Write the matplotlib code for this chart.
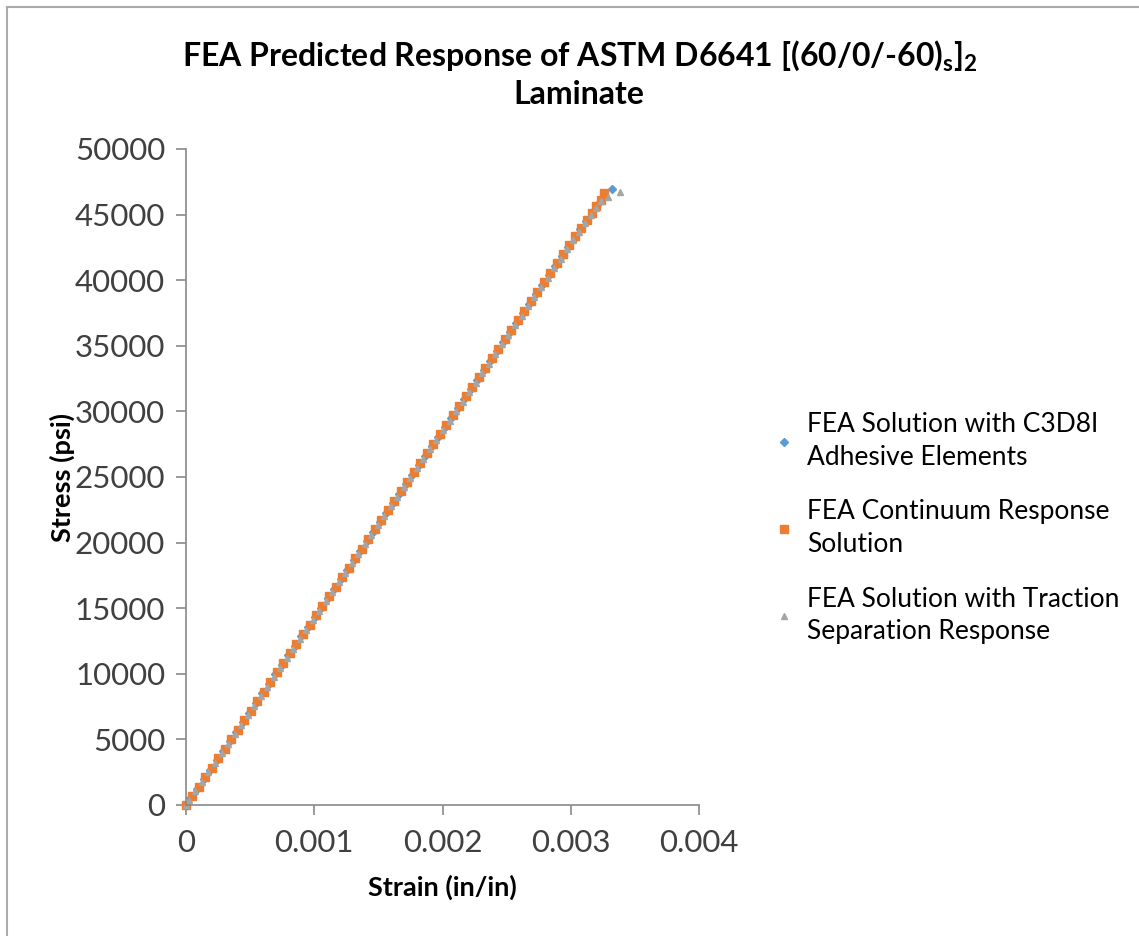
import numpy as np
import matplotlib
matplotlib.use("Agg")
import matplotlib.pyplot as plt
from matplotlib.lines import Line2D

plt.rcParams['font.family'] = ['Lato', 'DejaVu Sans']

# stress (psi) and strain (microstrain)
stress_c3d8i = [0, 500, 1250, 1950, 2700, 3400, 4150, 4850, 5600, 6300,
                7050, 7750, 8500, 9200, 9950, 10650, 11400, 12100, 12850, 13550,
                14300, 15000, 15750, 16450, 17200, 17900, 18650, 19350, 20100, 20800,
                21550, 22250, 23000, 23700, 24450, 25150, 25900, 26600, 27350, 28050,
                28800, 29500, 30250, 30950, 31700, 32400, 33150, 33850, 34600, 35300,
                36050, 36750, 37500, 38200, 38950, 39650, 40400, 41100, 41850, 42550,
                43250, 43900, 44550, 45150, 45700, 46200, 46950]
strain_c3d8i = [0, 35, 88, 137, 189, 238, 291, 340, 392, 441,
                494, 543, 596, 645, 697, 746, 799, 848, 900, 950,
                1002, 1051, 1104, 1153, 1205, 1254, 1307, 1356, 1409, 1458,
                1510, 1559, 1612, 1661, 1713, 1762, 1815, 1864, 1917, 1966,
                2018, 2067, 2120, 2169, 2221, 2270, 2323, 2372, 2425, 2474,
                2526, 2575, 2628, 2677, 2730, 2779, 2831, 2880, 2933, 2982,
                3031, 3076, 3122, 3164, 3203, 3238, 3322]

stress_cont = [0, 700, 1400, 2150, 2850, 3600, 4300, 5050, 5750, 6500,
               7200, 7950, 8650, 9400, 10100, 10850, 11550, 12300, 13000, 13750,
               14450, 15200, 15900, 16650, 17350, 18100, 18800, 19550, 20250, 21000,
               21700, 22450, 23150, 23900, 24600, 25350, 26050, 26800, 27500, 28250,
               28950, 29700, 30400, 31150, 31850, 32600, 33300, 34050, 34750, 35500,
               36200, 36950, 37650, 38400, 39100, 39850, 40550, 41300, 42000, 42700,
               43350, 44000, 44600, 45150, 45650, 46150, 46650]
strain_cont = [0, 49, 98, 151, 200, 252, 301, 354, 403, 455,
               504, 557, 606, 658, 707, 760, 809, 861, 910, 963,
               1012, 1064, 1113, 1166, 1215, 1268, 1317, 1369, 1418, 1471,
               1520, 1572, 1621, 1674, 1723, 1775, 1824, 1877, 1926, 1978,
               2027, 2080, 2129, 2181, 2230, 2283, 2332, 2384, 2433, 2486,
               2535, 2588, 2637, 2689, 2738, 2791, 2840, 2892, 2941, 2990,
               3036, 3081, 3123, 3162, 3197, 3232, 3262]

stress_ts = [0, 350, 1050, 1750, 2500, 3200, 3950, 4650, 5400, 6100,
             6850, 7550, 8300, 9000, 9750, 10450, 11200, 11900, 12650, 13350,
             14100, 14800, 15550, 16250, 17000, 17700, 18450, 19150, 19900, 20600,
             21350, 22050, 22800, 23500, 24250, 24950, 25700, 26400, 27150, 27850,
             28600, 29300, 30050, 30750, 31500, 32200, 32950, 33650, 34400, 35100,
             35850, 36550, 37300, 38000, 38750, 39450, 40200, 40900, 41650, 42350,
             43050, 43700, 44350, 44950, 45500, 46000, 46350, 46720]
strain_ts = [0, 25, 74, 123, 175, 224, 277, 326, 379, 428,
             480, 529, 582, 631, 684, 733, 785, 835, 887, 936,
             989, 1038, 1090, 1140, 1192, 1241, 1294, 1343, 1396, 1445,
             1497, 1546, 1599, 1648, 1701, 1750, 1802, 1851, 1904, 1953,
             2006, 2055, 2107, 2156, 2209, 2258, 2311, 2360, 2412, 2461,
             2514, 2563, 2616, 2665, 2717, 2766, 2819, 2868, 2921, 2970,
             3019, 3065, 3111, 3155, 3196, 3236, 3290, 3384]

labels = ['FEA Solution with C3D8I\nAdhesive Elements',
          'FEA Continuum Response\nSolution',
          'FEA Solution with Traction\nSeparation Response']

fig = plt.figure(figsize=(11.39, 9.36), dpi=100)
ax = fig.add_axes([186/1139, 1 - 805/936, 513/1139, 656/936])

ax.plot(np.array(strain_c3d8i) * 1e-6, stress_c3d8i, ls='none', marker='D',
        ms=4, color='#5B9BD5', label=labels[0], clip_on=False)
ax.plot(np.array(strain_cont) * 1e-6, stress_cont, ls='none', marker='s',
        ms=5.5, color='#ED7D31', label=labels[1], clip_on=False)
ax.plot(np.array(strain_ts) * 1e-6, stress_ts, ls='none', marker='^',
        ms=5, color='#A5A5A5', label=labels[2], clip_on=False)

ax.set_xlim(0, 0.004)
ax.set_ylim(0, 50000)
ax.set_xticks([0, 0.001, 0.002, 0.003, 0.004])
ax.set_xticklabels(['0', '0.001', '0.002', '0.003', '0.004'])
ax.set_yticks(range(0, 50001, 5000))

for s in ['top', 'right']:
    ax.spines[s].set_visible(False)
for s in ['left', 'bottom']:
    ax.spines[s].set_color('#898989')
    ax.spines[s].set_linewidth(1.2)
ax.tick_params(axis='both', colors='#898989', labelcolor='#404040',
               labelsize=22.5, length=7, width=1.2, direction='out')
ax.tick_params(axis='x', pad=10)
ax.tick_params(axis='y', pad=8)

ax.set_xlabel('Strain (in/in)', fontsize=19.5, fontweight='bold', labelpad=13)
ax.set_ylabel('Stress (psi)', fontsize=19.5, fontweight='bold', labelpad=0)

fig.text(0.509, 0.941,
         r'FEA Predicted Response of ASTM D6641 [(60/0/-60)$_\mathregular{s}$]$_\mathregular{2}$',
         ha='center', va='center', fontsize=23, fontweight='bold')
fig.text(0.508, 0.899, 'Laminate', ha='center', va='center',
         fontsize=23, fontweight='bold')

leg = fig.legend(loc='upper left', bbox_to_anchor=(0.6619, 0.585),
                 frameon=False, fontsize=19, handlelength=0.5,
                 handletextpad=0.6, labelspacing=1.12, markerscale=1.0)
for t in leg.get_texts():
    t.set_linespacing(1.38)

# chart border, only left and top edges visible
fig.add_artist(Line2D([7/1139, 7/1139], [0, 1 - 7/936], color='#ABABAB', lw=1.5))
fig.add_artist(Line2D([7/1139, 1], [1 - 7/936, 1 - 7/936], color='#ABABAB', lw=1.5))

fig.savefig('out.png', dpi=100)
